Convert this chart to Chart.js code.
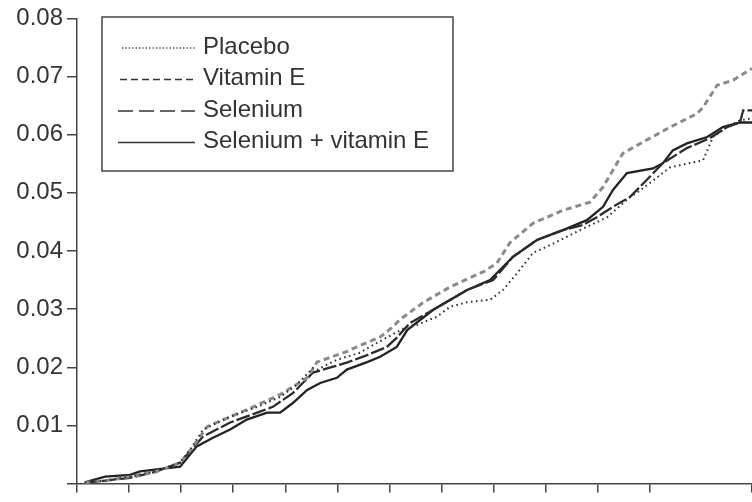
<!DOCTYPE html>
<html>
<head>
<meta charset="utf-8">
<script src="https://cdn.jsdelivr.net/npm/chart.js@4.4.1/dist/chart.umd.min.js"></script>
<style>
  html, body { margin: 0; padding: 0; background: #ffffff; }
  #wrap { width: 752px; height: 502px; position: relative; }
</style>
</head>
<body>
<div id="wrap"><canvas id="c" width="752" height="502"></canvas></div>
<script>
// Series labels
const seriesNames = ["Placebo", "Vitamin E", "Selenium", "Selenium + vitamin E"];

// Y tick values (cumulative incidence)
const yTickValues = [0, 0.01, 0.02, 0.03, 0.04, 0.05, 0.06, 0.07, 0.08];

// Time points (years) and cumulative incidence
const placeboX = [0.15, 0.54, 1.02, 1.5, 1.98, 2.2, 2.42, 2.94, 3.46, 3.90, 4.22, 4.53, 4.61, 4.99, 5.43, 5.76, 6.34, 6.53, 6.91, 7.16, 7.49, 7.93, 8.18, 8.45, 8.76, 9.08, 9.66, 10.18, 10.62, 10.75, 11.39, 12.02, 12.21, 12.48, 12.73, 12.96];
const placeboY = [0.0002, 0.0005, 0.0012, 0.0021, 0.0036, 0.0062, 0.0093, 0.0115, 0.0132, 0.0149, 0.0170, 0.0199, 0.0196, 0.0213, 0.0225, 0.0242, 0.0270, 0.0273, 0.0287, 0.0304, 0.0312, 0.0316, 0.0333, 0.0362, 0.0397, 0.0410, 0.0436, 0.0458, 0.0493, 0.0500, 0.0544, 0.0556, 0.0596, 0.0613, 0.0625, 0.0628];

const vitEX = [0.15, 0.54, 1.02, 1.5, 1.98, 2.2, 2.50, 3.26, 3.90, 4.42, 4.61, 5.18, 5.24, 5.82, 6.07, 6.20, 6.64, 7.16, 7.74, 7.80, 8.06, 8.31, 8.76, 9.33, 9.85, 10.10, 10.48, 10.94, 11.39, 11.90, 12.02, 12.29, 12.60, 12.96];
const vitEY = [0.0002, 0.0005, 0.0012, 0.0020, 0.0036, 0.0060, 0.0098, 0.0127, 0.0153, 0.0182, 0.0209, 0.0227, 0.0230, 0.0252, 0.0270, 0.0282, 0.0311, 0.0338, 0.0362, 0.0364, 0.0379, 0.0414, 0.0448, 0.0470, 0.0484, 0.0510, 0.0568, 0.0591, 0.0613, 0.0636, 0.0647, 0.0685, 0.0694, 0.0714];

const seleniumX = [0.15, 0.54, 1.02, 1.5, 1.98, 2.42, 2.94, 3.46, 3.76, 4.15, 4.53, 4.92, 5.18, 5.57, 5.95, 6.14, 6.39, 6.84, 7.49, 7.99, 8.37, 8.83, 9.33, 9.72, 9.98, 10.29, 10.62, 11.25, 11.71, 12.15, 12.48, 12.73, 12.79, 12.96];
const seleniumY = [0.0002, 0.0005, 0.0010, 0.0020, 0.0036, 0.0081, 0.0105, 0.0122, 0.0132, 0.0156, 0.0191, 0.0201, 0.0208, 0.0221, 0.0235, 0.0251, 0.0276, 0.0299, 0.0333, 0.0350, 0.0390, 0.0419, 0.0436, 0.0445, 0.0458, 0.0476, 0.0493, 0.0551, 0.0577, 0.0594, 0.0613, 0.0621, 0.0642, 0.0642];

const selVitEX = [0.15, 0.54, 1.02, 1.21, 1.98, 2.30, 2.61, 2.94, 3.26, 3.65, 3.90, 4.15, 4.42, 4.67, 4.99, 5.18, 5.57, 5.82, 6.14, 6.34, 6.84, 7.49, 7.93, 8.37, 8.83, 9.33, 9.79, 10.10, 10.29, 10.56, 11.06, 11.25, 11.44, 11.71, 12.10, 12.40, 12.73, 12.96];
const selVitEY = [0.0002, 0.0012, 0.0015, 0.0021, 0.0029, 0.0064, 0.0079, 0.0093, 0.0110, 0.0122, 0.0122, 0.0139, 0.0161, 0.0173, 0.0182, 0.0196, 0.0209, 0.0218, 0.0235, 0.0264, 0.0299, 0.0333, 0.0350, 0.0390, 0.0419, 0.0436, 0.0453, 0.0476, 0.0505, 0.0534, 0.0542, 0.0551, 0.0573, 0.0585, 0.0596, 0.0613, 0.0621, 0.0621];

const xMax = 12.96;

function pts(xs, ys) { return xs.map((x, i) => ({ x: x, y: ys[i] })); }

const FONT = "'Liberation Sans', Arial, Helvetica, sans-serif";
const AXIS = '#444444';

const styles = [
  { color: '#333333', width: 2.0, dash: [1.6, 3.4] },
  { color: '#8a8a8a', width: 3.0, dash: [6, 4] },
  { color: '#2b2b2b', width: 2.3, dash: [14, 3] },
  { color: '#222222', width: 2.3, dash: [] }
];

const dataArrays = [pts(placeboX, placeboY), pts(vitEX, vitEY), pts(seleniumX, seleniumY), pts(selVitEX, selVitEY)];

const datasets = seriesNames.map((name, i) => ({
  label: name,
  data: dataArrays[i],
  borderColor: styles[i].color,
  borderWidth: styles[i].width,
  borderDash: styles[i].dash,
  pointRadius: 0,
  tension: 0,
  fill: false,
  clip: false
}));

const legendBox = {
  id: 'legendBox',
  afterDraw(chart) {
    const ctx = chart.ctx;
    ctx.save();
    ctx.fillStyle = '#ffffff';
    ctx.fillRect(102, 17, 351, 154);
    ctx.strokeStyle = AXIS;
    ctx.lineWidth = 1.5;
    ctx.setLineDash([]);
    ctx.strokeRect(102, 17, 351, 154);
    const rows = [47, 78.5, 110, 141.5];
    chart.data.datasets.forEach((ds, i) => {
      const y = rows[i] + 1;
      ctx.beginPath();
      ctx.strokeStyle = '#333333';
      ctx.lineWidth = i === 0 ? 1.3 : 1.6;
      ctx.setLineDash(i === 0 ? [1.2, 2.2] : (i === 1 ? [7, 4] : (i === 2 ? [15, 6] : [])));
      ctx.moveTo(i === 0 ? 122 : (i === 1 ? 120 : 118), y);
      ctx.lineTo(195, y);
      ctx.stroke();
      ctx.setLineDash([]);
      ctx.fillStyle = '#333333';
      ctx.font = '24px ' + FONT;
      ctx.textBaseline = 'middle';
      ctx.textAlign = 'left';
      ctx.fillText(ds.label, 203, rows[i]);
    });
    ctx.restore();
  }
};

new Chart(document.getElementById('c'), {
  type: 'line',
  data: { datasets: datasets },
  options: {
    responsive: false,
    animation: false,
    layout: { padding: { top: 18, right: 0, left: 0, bottom: 0 } },
    plugins: { legend: { display: false }, tooltip: { enabled: false } },
    scales: {
      x: {
        type: 'linear',
        min: 0,
        max: xMax,
        afterFit(scale) { scale.height = 18; },
        ticks: { display: false, stepSize: 1 },
        grid: { drawOnChartArea: false, drawTicks: true, tickLength: 9, color: AXIS, lineWidth: 1.5 },
        border: { display: true, color: AXIS, width: 1.5 }
      },
      y: {
        type: 'linear',
        min: 0,
        max: 0.08,
        afterFit(scale) { scale.width = 77; },
        afterBuildTicks(scale) { scale.ticks = yTickValues.map(v => ({ value: v })); },
        ticks: {
          padding: 4,
          color: '#333333',
          font: { family: FONT, size: 24 },
          callback: (v) => v === 0 ? '' : v.toFixed(2)
        },
        grid: { drawOnChartArea: false, drawTicks: true, tickLength: 10, color: AXIS, lineWidth: 1.5 },
        border: { display: true, color: AXIS, width: 1.5 }
      }
    }
  },
  plugins: [legendBox]
});
</script>
</body>
</html>
